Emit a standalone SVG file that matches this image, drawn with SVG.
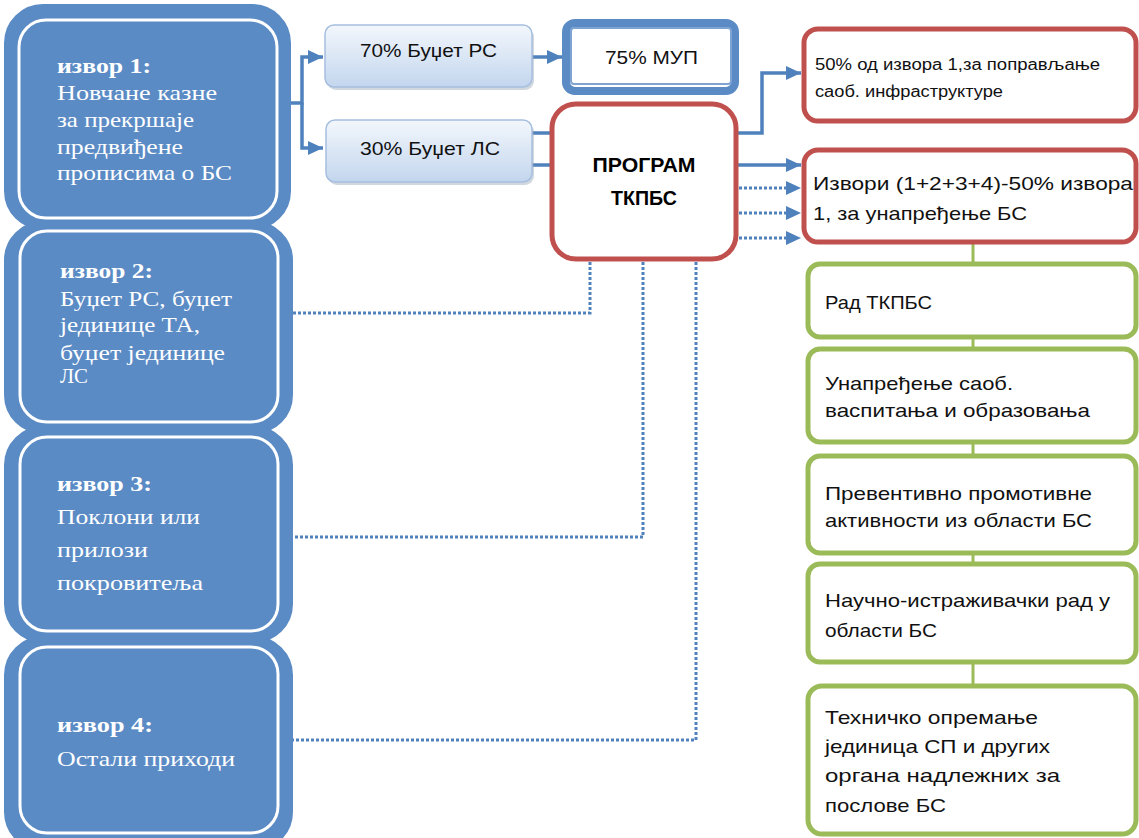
<svg xmlns="http://www.w3.org/2000/svg" width="1139" height="838" viewBox="0 0 1139 838">
<style>
.src-out{fill:#5b8bc5;stroke:#5b8bc5;stroke-width:10}
.src-in{fill:none;stroke:#ffffff;stroke-width:3}
.stxt{font-family:"Liberation Serif","DejaVu Serif",serif;font-size:22px;fill:#ffffff}
.stxt-b{font-family:"Liberation Serif","DejaVu Serif",serif;font-size:22px;font-weight:bold;fill:#ffffff}
.bud{stroke:#a7bfdf;stroke-width:1.5;fill:url(#budg)}
.shadow{fill:#9aa6b6;opacity:0.45}
.btxt{font-family:"Liberation Sans","DejaVu Sans",sans-serif;font-size:19px;fill:#111111}
.red{fill:#ffffff;stroke:#c0504d;stroke-width:5}
.green{fill:#ffffff;stroke:#9bbb59;stroke-width:5}
.rtxt{font-family:"Liberation Sans","DejaVu Sans",sans-serif;font-size:19px;fill:#111111}
.rtxt-s{font-family:"Liberation Sans","DejaVu Sans",sans-serif;font-size:16px;fill:#111111}
.ptxt{font-family:"Liberation Sans","DejaVu Sans",sans-serif;font-size:21px;font-weight:bold;fill:#000000}
.solid{fill:none;stroke:#4f81bd;stroke-width:3.5}
.dot{fill:none;stroke:#4f81bd;stroke-width:3;stroke-dasharray:3 2}
.gline{fill:none;stroke:#9bbb59;stroke-width:3}
</style>
<defs>
<linearGradient id="budg" x1="0" y1="0" x2="0" y2="1">
<stop offset="0" stop-color="#f3f7fc"/>
<stop offset="1" stop-color="#c3d6ee"/>
</linearGradient>
<marker id="arr" markerUnits="userSpaceOnUse" markerWidth="16" markerHeight="16" refX="15" refY="8" orient="auto">
<path d="M0,1 L15,8 L0,15 z" fill="#4f81bd"/>
</marker>
</defs>

<g id="connectors">
<path class="solid" d="M287,103 H302 V57 H323" marker-end="url(#arr)"/>
<path class="solid" d="M302,103 V148 H323" marker-end="url(#arr)"/>
<path class="solid" d="M532,57 H562" marker-end="url(#arr)"/>
<path class="solid" d="M532,133 H552"/>
<path class="solid" d="M532,165 H552"/>
<path class="solid" d="M737,133 H762 V73 H801" marker-end="url(#arr)"/>
<path class="solid" d="M737,165 H801" marker-end="url(#arr)"/>
<path class="dot" d="M739,188 H787"/>
<path class="dot" d="M739,213 H787"/>
<path class="dot" d="M739,238 H787"/>
<path d="M786,181 L801,188 L786,195 z" fill="#4f81bd"/>
<path d="M786,206 L801,213 L786,220 z" fill="#4f81bd"/>
<path d="M786,231 L801,238 L786,245 z" fill="#4f81bd"/>
<path class="dot" d="M590,262 V313 H290"/>
<path class="dot" d="M643,262 V537 H290"/>
<path class="dot" d="M696,262 V740 H290"/>
<path class="gline" d="M973,244 V262"/>
<path class="gline" d="M973,339 V347"/>
<path class="gline" d="M973,444 V454"/>
<path class="gline" d="M973,555 V562"/>
<path class="gline" d="M973,664 V684"/>
</g>

<g id="izvor1">
<rect class="src-out" x="9" y="9" width="277" height="216" rx="34"/>
<rect class="src-in" x="19" y="20" width="258" height="198" rx="27"/>
<text class="stxt-b" x="57" y="73" textLength="94" lengthAdjust="spacingAndGlyphs">извор 1:</text>
<text class="stxt" x="57" y="100" textLength="160" lengthAdjust="spacingAndGlyphs">Новчане казне</text>
<text class="stxt" x="57" y="127" textLength="137" lengthAdjust="spacingAndGlyphs">за прекршаје</text>
<text class="stxt" x="57" y="154" textLength="126" lengthAdjust="spacingAndGlyphs">предвиђене</text>
<text class="stxt" x="57" y="180" textLength="175" lengthAdjust="spacingAndGlyphs">прописима о БС</text>
</g>

<g id="izvor2">
<rect class="src-out" x="9" y="226" width="279" height="203" rx="34"/>
<rect class="src-in" x="20" y="231" width="258" height="191" rx="27"/>
<text class="stxt-b" x="60" y="278" textLength="93" lengthAdjust="spacingAndGlyphs">извор 2:</text>
<text class="stxt" x="60" y="306" textLength="172" lengthAdjust="spacingAndGlyphs">Буџет РС, буџет</text>
<text class="stxt" x="60" y="332" textLength="140" lengthAdjust="spacingAndGlyphs">јединице ТА,</text>
<text class="stxt" x="60" y="360" textLength="165" lengthAdjust="spacingAndGlyphs">буџет јединице</text>
<text class="stxt" x="60" y="383" textLength="28" lengthAdjust="spacingAndGlyphs">ЛС</text>
</g>

<g id="izvor3">
<rect class="src-out" x="9" y="431" width="279" height="207" rx="34"/>
<rect class="src-in" x="20" y="437" width="258" height="194" rx="27"/>
<text class="stxt-b" x="57" y="491" textLength="95" lengthAdjust="spacingAndGlyphs">извор 3:</text>
<text class="stxt" x="57" y="524" textLength="143" lengthAdjust="spacingAndGlyphs">Поклони или</text>
<text class="stxt" x="57" y="557" textLength="91" lengthAdjust="spacingAndGlyphs">прилози</text>
<text class="stxt" x="57" y="590" textLength="146" lengthAdjust="spacingAndGlyphs">покровитеља</text>
</g>

<g id="izvor4">
<rect class="src-out" x="9" y="641" width="279" height="205" rx="34"/>
<rect class="src-in" x="20" y="647" width="258" height="186" rx="27"/>
<text class="stxt-b" x="57" y="732" textLength="96" lengthAdjust="spacingAndGlyphs">извор 4:</text>
<text class="stxt" x="57" y="766" textLength="178" lengthAdjust="spacingAndGlyphs">Остали приходи</text>
</g>

<g id="budzet-rs">
<rect class="shadow" x="327" y="28" width="207" height="62" rx="9"/>
<rect class="bud" x="325" y="25" width="207" height="62" rx="9"/>
<text class="btxt" x="360" y="57" textLength="137" lengthAdjust="spacingAndGlyphs">70% Буџет РС</text>
</g>

<g id="budzet-ls">
<rect class="shadow" x="328" y="123" width="206" height="62" rx="9"/>
<rect class="bud" x="326" y="120" width="206" height="62" rx="9"/>
<text class="btxt" x="360" y="155" textLength="140" lengthAdjust="spacingAndGlyphs">30% Буџет ЛС</text>
</g>

<g id="mup">
<rect x="566" y="23" width="169" height="68" rx="9" fill="#ffffff" stroke="#5b8bc5" stroke-width="8"/>
<rect x="571" y="28" width="160" height="56" rx="3" fill="#ffffff" stroke="#7fa3d3" stroke-width="2"/>
<text class="btxt" x="605" y="64" textLength="93" lengthAdjust="spacingAndGlyphs">75% МУП</text>
</g>

<g id="program">
<rect class="red" x="552" y="104" width="184" height="155" rx="24"/>
<text class="ptxt" x="644" y="172" text-anchor="middle" textLength="103" lengthAdjust="spacingAndGlyphs">ПРОГРАМ</text>
<text class="ptxt" x="644" y="205" text-anchor="middle" textLength="66" lengthAdjust="spacingAndGlyphs">ТКПБС</text>
</g>

<g id="popravljanje">
<rect class="red" x="804" y="29" width="332" height="92" rx="14"/>
<text class="rtxt-s" x="815" y="70" textLength="285" lengthAdjust="spacingAndGlyphs">50% од извора 1,за поправљање</text>
<text class="rtxt-s" x="815" y="97" textLength="188" lengthAdjust="spacingAndGlyphs">саоб.  инфраструктуре</text>
</g>

<g id="unapredjenje">
<rect class="red" x="804" y="150" width="332" height="92" rx="14"/>
<text class="rtxt" x="813" y="190" textLength="320" lengthAdjust="spacingAndGlyphs">Извори (1+2+3+4)-50% извора</text>
<text class="rtxt" x="813" y="220" textLength="214" lengthAdjust="spacingAndGlyphs">1, за унапређење БС</text>
</g>

<g id="rad">
<rect class="green" x="808" y="264" width="328" height="73" rx="12"/>
<text class="rtxt" x="825" y="309" textLength="107" lengthAdjust="spacingAndGlyphs">Рад ТКПБС</text>
</g>

<g id="vaspitanje">
<rect class="green" x="808" y="349" width="328" height="93" rx="12"/>
<text class="rtxt" x="825" y="390" textLength="188" lengthAdjust="spacingAndGlyphs">Унапређење саоб.</text>
<text class="rtxt" x="825" y="417" textLength="265" lengthAdjust="spacingAndGlyphs">васпитања и образовања</text>
</g>

<g id="preventivno">
<rect class="green" x="808" y="456" width="328" height="97" rx="12"/>
<text class="rtxt" x="825" y="500" textLength="267" lengthAdjust="spacingAndGlyphs">Превентивно  промотивне</text>
<text class="rtxt" x="825" y="527" textLength="267" lengthAdjust="spacingAndGlyphs">активности из области БС</text>
</g>

<g id="naucno">
<rect class="green" x="808" y="564" width="328" height="98" rx="12"/>
<text class="rtxt" x="825" y="607" textLength="285" lengthAdjust="spacingAndGlyphs">Научно-истраживачки рад у</text>
<text class="rtxt" x="825" y="637" textLength="112" lengthAdjust="spacingAndGlyphs">области БС</text>
</g>

<g id="tehnicko">
<rect class="green" x="808" y="686" width="328" height="148" rx="14"/>
<text class="rtxt" x="825" y="724" textLength="213" lengthAdjust="spacingAndGlyphs">Техничко  опремање</text>
<text class="rtxt" x="825" y="753" textLength="225" lengthAdjust="spacingAndGlyphs">јединица СП и других</text>
<text class="rtxt" x="825" y="782" textLength="235" lengthAdjust="spacingAndGlyphs">органа надлежних за</text>
<text class="rtxt" x="825" y="812" textLength="121" lengthAdjust="spacingAndGlyphs">послове БС</text>
</g>
</svg>
